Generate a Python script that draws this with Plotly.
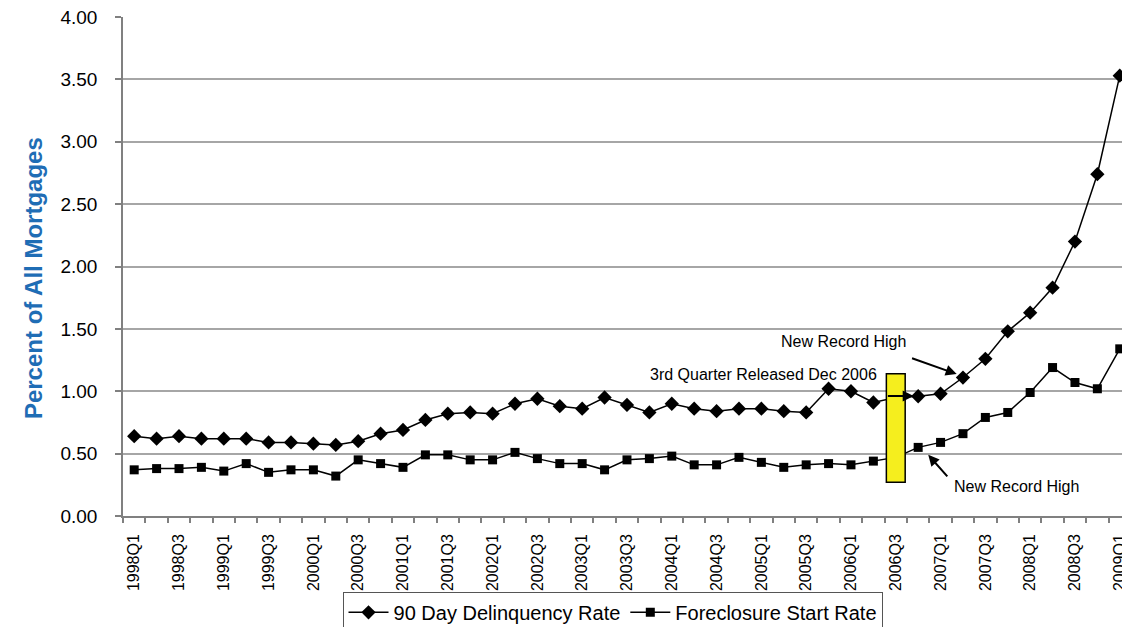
import plotly.graph_objects as go

# Quarterly series, 1998Q1 through 2009Q1
quarters = [f"{y}Q{q}" for y in range(1998, 2010) for q in range(1, 5)][:45]

delinquency_90day = [
    0.64, 0.62, 0.64, 0.62, 0.62, 0.62, 0.59, 0.59, 0.58, 0.57,
    0.60, 0.66, 0.69, 0.77, 0.82, 0.83, 0.82, 0.90, 0.94, 0.88,
    0.86, 0.95, 0.89, 0.83, 0.90, 0.86, 0.84, 0.86, 0.86, 0.84,
    0.83, 1.02, 1.00, 0.91, 0.95, 0.96, 0.98, 1.11, 1.26, 1.48,
    1.63, 1.83, 2.20, 2.74, 3.53,
]
foreclosure_start = [
    0.37, 0.38, 0.38, 0.39, 0.36, 0.42, 0.35, 0.37, 0.37, 0.32,
    0.45, 0.42, 0.39, 0.49, 0.49, 0.45, 0.45, 0.51, 0.46, 0.42,
    0.42, 0.37, 0.45, 0.46, 0.48, 0.41, 0.41, 0.47, 0.43, 0.39,
    0.41, 0.42, 0.41, 0.44, 0.47, 0.55, 0.59, 0.66, 0.79, 0.83,
    0.99, 1.19, 1.07, 1.02, 1.34,
]
y_ticks = [0.0, 0.5, 1.0, 1.5, 2.0, 2.5, 3.0, 3.5, 4.0]

xs = list(range(len(quarters)))
label_idx = xs[::2]
q3_2006 = quarters.index("2006Q3")
q4_2006 = quarters.index("2006Q4")
q2_2007 = quarters.index("2007Q2")

fig = go.Figure()
fig.add_trace(go.Scatter(
    x=xs, y=delinquency_90day, mode="lines+markers", name="90 Day Delinquency Rate",
    line=dict(color="black", width=1.5),
    marker=dict(symbol="diamond", size=11, color="black"),
    cliponaxis=False,
))
fig.add_trace(go.Scatter(
    x=xs, y=foreclosure_start, mode="lines+markers", name="Foreclosure Start Rate",
    line=dict(color="black", width=1.5),
    marker=dict(symbol="square", size=9, color="black"),
    cliponaxis=False,
))

# Highlight box over the 2006Q3 release
fig.add_shape(type="rect", xref="x", yref="y",
              x0=q3_2006 - 0.42, x1=q3_2006 + 0.42, y0=0.27, y1=1.14,
              fillcolor="#F5EE1E", line=dict(color="black", width=1.5), layer="above")

txt_font = dict(family="Liberation Sans, Arial, sans-serif", size=16, color="black")
arrow_kw = dict(showarrow=True, arrowhead=2, arrowsize=1.1, arrowwidth=2,
                arrowcolor="black", xref="x", yref="y", axref="x", ayref="y",
                text="", standoff=0, startstandoff=0)

fig.add_annotation(x=31.66, y=1.395, text="New Record High", showarrow=False,
                   xref="x", yref="y", font=txt_font)
fig.add_annotation(x=q2_2007 - 0.28, y=1.138, ax=34.66, ay=1.269, **arrow_kw)

fig.add_annotation(x=33.25, y=1.138, text="3rd Quarter Released Dec 2006", showarrow=False,
                   xref="x", yref="y", xanchor="right", font=txt_font)
fig.add_annotation(x=q4_2006 - 0.2, y=0.962, ax=q3_2006 - 0.42, ay=0.962, **arrow_kw)

fig.add_annotation(x=39.4, y=0.24, text="New Record High", showarrow=False,
                   xref="x", yref="y", font=txt_font)
fig.add_annotation(x=q4_2006 + 0.45, y=0.49, ax=36.36, ay=0.305, **arrow_kw)

# Axis title placed as rotated text
fig.add_annotation(x=-0.105, y=0.476, xref="paper", yref="paper", textangle=-90,
                   text="<b>Percent of All Mortgages</b>", showarrow=False,
                   font=dict(family="Liberation Sans, Arial, sans-serif", size=24, color="#1F6DB5"))

fig.update_layout(
    width=1122, height=627,
    margin=dict(l=123, r=0, t=17, b=111, autoexpand=False),
    paper_bgcolor="white", plot_bgcolor="white",
    font=dict(family="Liberation Sans, Arial, sans-serif", color="black"),
    showlegend=True,
    legend=dict(orientation="h", x=0.49, xanchor="center", y=-0.152, yanchor="top",
                bordercolor="#555555", borderwidth=1, font=dict(size=20),
                itemwidth=40, tracegroupgap=0),
    xaxis=dict(
        range=[-0.5, 44.1], tickmode="array", tickvals=label_idx,
        ticktext=[quarters[i] for i in label_idx], tickangle=-90,
        ticks="", showgrid=False, zeroline=False, automargin=False,
        showline=True, linecolor="#808080", linewidth=1.5,
        tickfont=dict(size=16), ticklabelstandoff=10, ticklabeloverflow="allow",
        minor=dict(tickmode="array", tickvals=[i - 0.5 for i in xs] + [44.5],
                   ticks="outside", ticklen=5, tickcolor="#808080", tickwidth=1.5,
                   showgrid=False),
    ),
    yaxis=dict(
        range=[0, 4], tickmode="array", tickvals=y_ticks,
        ticktext=[f"{v:.2f}" for v in y_ticks], automargin=False,
        ticks="outside", ticklen=6, tickcolor="#808080", tickwidth=1.5,
        showgrid=True, gridcolor="#A6A6A6", gridwidth=1.5, zeroline=False,
        showline=True, linecolor="#808080", linewidth=1.5,
        tickfont=dict(size=19), ticklabelstandoff=14,
    ),
)

fig.write_html("out.html")
